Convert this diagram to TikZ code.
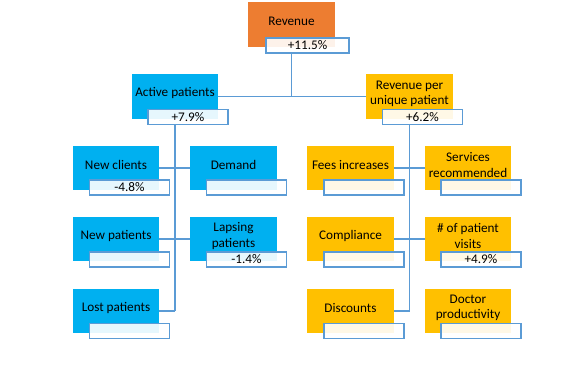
\documentclass[tikz,border=0pt]{standalone}
\usepackage{fontspec}
\setmainfont{Carlito}
\definecolor{cblue}{HTML}{00B0F0}
\definecolor{cgold}{HTML}{FFC000}
\definecolor{corange}{HTML}{ED7D31}
\definecolor{cline}{HTML}{5B9BD5}
\begin{document}
\begin{tikzpicture}[x=0.75pt,y=-0.75pt,
  sz/.style 2 args={minimum width=#1*0.75pt, minimum height=#2*0.75pt},
  blk/.style={inner sep=0pt, outer sep=0pt, draw=none, sz={86}{44}},
  bbox/.style={blk, fill=cblue},
  gbox/.style={blk, fill=cgold},
  obox/.style={blk, fill=corange, sz={87}{45}},
  lbl/.style={align=center, inner sep=0pt, font=\fontsize{9.9pt}{11.3pt}\selectfont},
  val/.style={draw=cline, line width=0.9pt, fill=white, fill opacity=0.9, text opacity=1,
    inner sep=0pt, sz={80}{15}, font=\fontsize{9.9pt}{11.3pt}\selectfont},
  conn/.style={draw=cline, line width=0.9pt}
]
\useasboundingbox (0,0) rectangle (581,366);

% top
\node[obox] (rev) at (291.5,24.5) {};
\node[lbl] (rev-t) at ([yshift=2.25pt]rev.center) {Revenue};
\node[val, sz={83}{15}] (rev-v) at (307.5,45.5) {+11.5\%};

\node[bbox, sz={86}{45}] (ap) at (175,96.5) {};
\node[lbl] (ap-t) at ([yshift=2.25pt]ap.center) {Active patients};
\node[val] (ap-v) at (188,117) {+7.9\%};

\node[gbox, sz={87}{45}] (rpu) at (409.5,96.5) {};
\node[lbl] (rpu-t) at ([yshift=2.25pt]rpu.center) {Revenue per\\unique patient};
\node[val] (rpu-v) at (422.5,117) {+6.2\%};

% left group
\node[bbox] (nc) at (116,168) {};
\node[lbl] (nc-t) at ([yshift=2.25pt]nc.center) {New clients};
\node[val] (nc-v) at (129.5,187.5) {-4.8\%};

\node[bbox, sz={87}{44}] (dm) at (233.5,168) {};
\node[lbl] (dm-t) at ([yshift=2.25pt]dm.center) {Demand};
\node[val] (dm-v) at (246.5,187.5) {};

\node[bbox] (np) at (116,239) {};
\node[lbl] (np-t) at ([yshift=2.25pt]np.center) {New patients};
\node[val] (np-v) at (129.5,259.5) {};

\node[bbox, sz={87}{44}] (lap) at (233.5,239) {};
\node[lbl] (lap-t) at ([yshift=2.25pt]lap.center) {Lapsing\\patients};
\node[val] (lap-v) at (246.5,259.5) {-1.4\%};

\node[bbox] (lost) at (116,311) {};
\node[lbl] (lost-t) at ([yshift=2.25pt]lost.center) {Lost patients};
\node[val] (lost-v) at (129.5,331) {};

% right group
\node[gbox, sz={87}{44}] (fi) at (350.5,168) {};
\node[lbl] (fi-t) at ([yshift=2.25pt]fi.center) {Fees increases};
\node[val] (fi-v) at (364,187.5) {};

\node[gbox] (sr) at (468,168) {};
\node[lbl] (sr-t) at ([yshift=2.25pt]sr.center) {Services\\recommended};
\node[val] (sr-v) at (481,187.5) {};

\node[gbox, sz={87}{44}] (co) at (350.5,239) {};
\node[lbl] (co-t) at ([yshift=2.25pt]co.center) {Compliance};
\node[val] (co-v) at (364,259.5) {};

\node[gbox] (pv) at (468,239) {};
\node[lbl] (pv-t) at ([yshift=2.25pt]pv.center) {\# of patient\\visits};
\node[val] (pv-v) at (481,259.5) {+4.9\%};

\node[gbox, sz={87}{44}] (di) at (350.5,311) {};
\node[lbl] (di-t) at ([yshift=2.25pt]di.center) {Discounts};
\node[val] (di-v) at (364,331) {};

\node[gbox] (dp) at (468,311) {};
\node[lbl] (dp-t) at ([yshift=2.25pt]dp.center) {Doctor\\productivity};
\node[val] (dp-v) at (481,331) {};

% connectors
\coordinate (j0) at (rev.center |- ap.east);
\draw[conn] (rev-v.south -| rev.center) -- (j0);
\draw[conn] (ap.east) -- (rpu.west);

\coordinate (lend) at (ap.center |- lost.east);
\draw[conn] (ap-v.south -| ap.center) -- (lend);
\draw[conn] (nc.east) -- (dm.west);
\draw[conn] (np.east) -- (lap.west);
\draw[conn] (lost.east) -- (lend);

\coordinate (rend) at (rpu.center |- di.east);
\draw[conn] (rpu-v.south -| rpu.center) -- (rend);
\draw[conn] (fi.east) -- (sr.west);
\draw[conn] (co.east) -- (pv.west);
\draw[conn] (di.east) -- (rend);
\end{tikzpicture}
\end{document}
